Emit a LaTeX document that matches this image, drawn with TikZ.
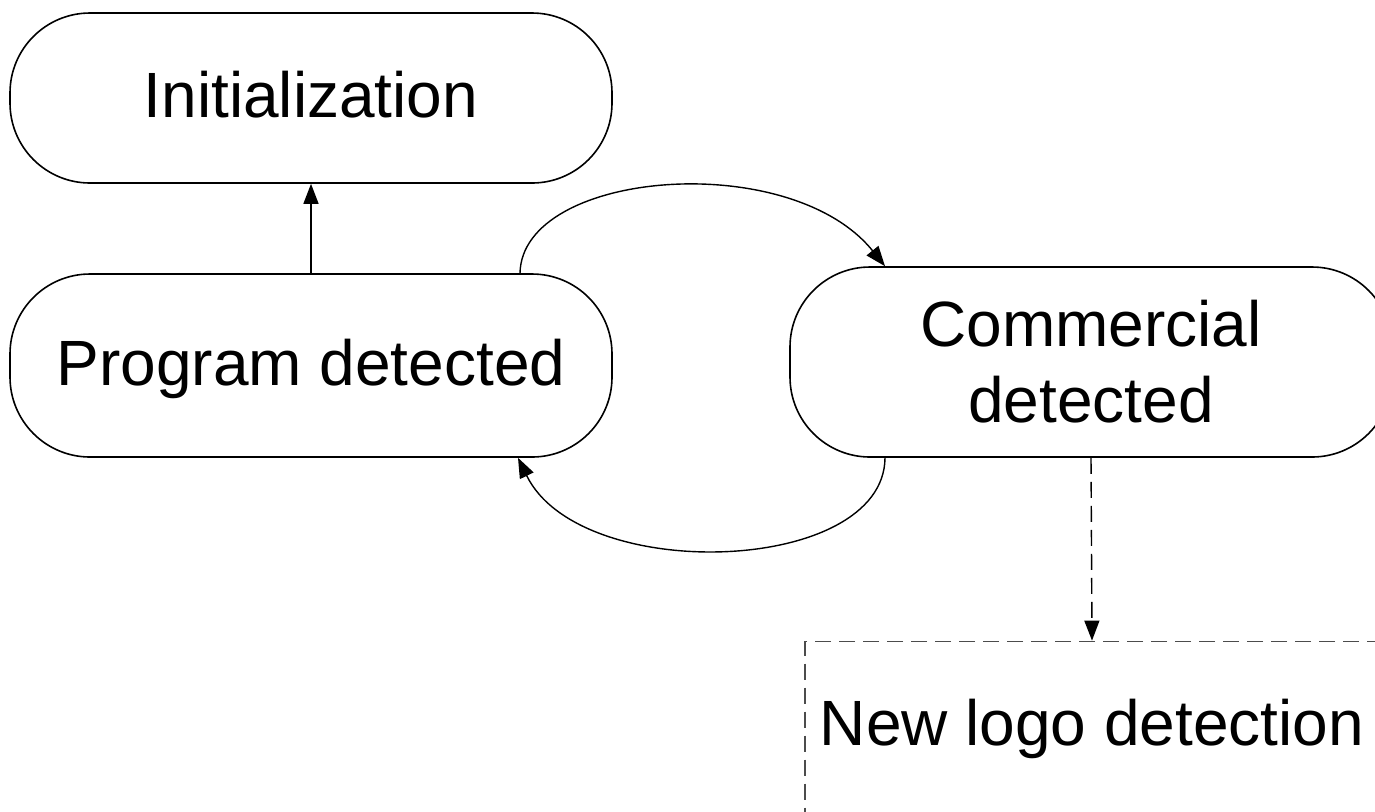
\documentclass[tikz,border=0pt]{standalone}
\usepackage{fontspec}
\setmainfont{Liberation Sans}
\usetikzlibrary{arrows.meta}
\tikzset{
  stadium/.style={draw, line width=0.8pt, rounded corners=40pt, minimum width=301pt,
    inner sep=0pt, font=\fontsize{32}{38}\selectfont, align=center},
  fixtext/.style={text height=23pt, text depth=3.5pt},
  dashbox/.style={draw=black!70, line width=0.9pt, dash pattern=on 8pt off 4pt,
    minimum width=287pt, inner sep=0pt, font=\fontsize{32}{38.5}\selectfont,
    text height=23pt, text depth=6.5pt},
  arr/.style={line width=0.7pt, -{Triangle[length=10pt,width=7.5pt]}},
  darr/.style={arr, dash pattern=on 8pt off 4pt}
}
\begin{document}
\begin{tikzpicture}[x=0.5pt,y=-0.5pt]
\useasboundingbox (0,0) rectangle (1375,811);
\node[stadium, fixtext, minimum height=85pt] (init) at (311,98) {Initialization};
\node[stadium, fixtext, minimum height=91.5pt] (pd) at (311,365.5) {Program detected};
\node[stadium, minimum height=95pt] (cd) at (1091,362) {Commercial\\detected};
\node[dashbox, minimum height=87pt] (nl) at (1092,728.5) {New logo detection};
\draw[arr] (pd.north) -- (init.south);
\draw[arr] ([xshift=104.5pt]pd.north) .. controls (522,170) and (790,148) .. ([xshift=-103pt]cd.north);
\draw[arr] ([xshift=-103pt]cd.south) .. controls (884,575) and (580,585) .. ([xshift=103.5pt]pd.south);
\draw[darr] (cd.south) -- (nl.north);
\end{tikzpicture}
\end{document}
